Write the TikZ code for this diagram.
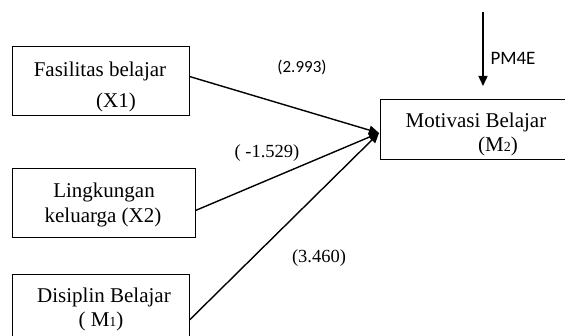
\documentclass[tikz,border=0pt]{standalone}
\usepackage{fontspec}
\setmainfont{Liberation Serif}
\newfontfamily\calib{Carlito}
\usetikzlibrary{arrows.meta}
\newcommand{\smallnum}[1]{{\fontsize{14}{14}\selectfont #1}}
\begin{document}
\begin{tikzpicture}[x=1pt,y=-1pt,
  box/.style={draw,line width=1pt,inner sep=0pt},
  txt/.style={font=\fontsize{21}{24}\selectfont,inner sep=0pt,anchor=base},
  lbl/.style={font=\fontsize{18.5}{20}\selectfont,inner sep=0pt,anchor=base},
  slbl/.style={font=\calib\fontsize{17}{20}\selectfont,inner sep=0pt,anchor=base},
  arr/.style={line width=1.4pt,-{Triangle[length=10pt,width=9pt]}}]
\useasboundingbox (0,0) rectangle (565,336);
\fill[white] (0,0) rectangle (565,336);
% boxes
\node[box,minimum width=177pt,minimum height=69pt] (x1) at (100.5,81.5) {};
\node[box,minimum width=183pt,minimum height=69pt] (x2) at (103.5,203.5) {};
\node[box,minimum width=177pt,minimum height=70pt] (m1) at (100.5,310) {};
\node[box,minimum width=200pt,minimum height=60pt] (m2) at (480,130) {};
% texts
\node[txt] (t1a) at (100,77) {Fasilitas belajar};
\node[txt] (t1b) at (116,108) {(X1)};
\node[txt] (t2a) at (104,198) {Lingkungan};
\node[txt] (t2b) at (103,223) {keluarga (X2)};
\node[txt] (t3a) at (104,303) {Disiplin Belajar};
\node[txt] (t3b) at (101,327) {( M\smallnum{1})};
\node[txt] (t4a) at (476,128) {Motivasi Belajar};
\node[txt] (t4b) at (498,152) {(M\smallnum{2})};
% connectors
\coordinate (tip) at (379,133);
\draw[arr] ([yshift=5pt]x1.east) -- (tip);
\draw[arr] ([yshift=-7pt]x2.east) -- (tip);
\draw[arr] ([yshift=-10pt]m1.east) -- (tip);
\coordinate (pmtop) at (483,12);
\coordinate (pmend) at (483,86);
\draw[arr] (pmtop) -- (pmend);
% labels
\node[slbl] (l1) at (302,73) {(2.993)};
\node[lbl] (l2) at (267,158) {( -1.529)};
\node[lbl] (l3) at (319,263) {(3.460)};
\node[slbl,font=\calib\fontsize{19}{20}\selectfont] (pm) at (513,65) {PM4E};
\end{tikzpicture}
\end{document}
